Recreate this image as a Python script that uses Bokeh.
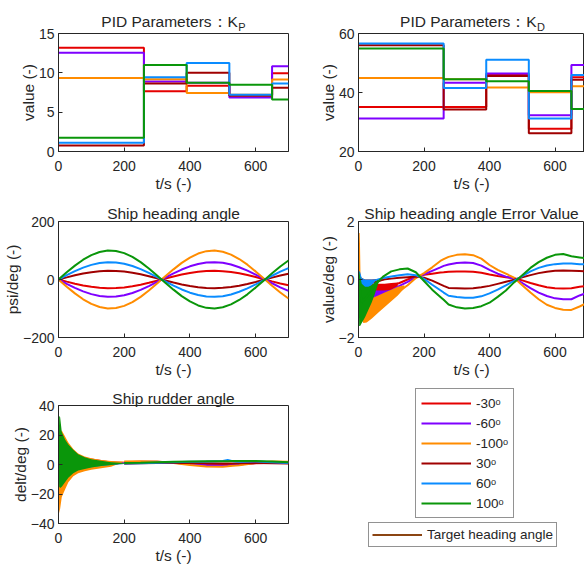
from bokeh.plotting import figure
from bokeh.models import Range1d, FixedTicker, Label, Legend, LegendItem
from bokeh.layouts import column, row
from bokeh.embed import file_html
from bokeh.resources import INLINE

# ---------------- data ----------------
series_names = ["-30ᵒ", "-60ᵒ", "-100ᵒ", "30ᵒ", "60ᵒ", "100ᵒ"]
series_colors = ["#E50000", "#7F00FF", "#FF8C00", "#A00000", "#0A8CFF", "#0A960A"]
target_name = "Target heading angle"
target_color = "#8B4513"

x_ticks = [0, 200, 400, 600]

# PID parameters (piecewise constant, switching times)
t_switch = [0, 260, 390, 520, 650, 700]
kp_m30 = [13.2, 7.65, 8.35, 7.15, 9.95]
kp_m60 = [12.55, 8.9, 8.75, 6.85, 10.85]
kp_m100 = [9.35, 9.2, 7.45, 7.2, 9.15]
kp_p30 = [0.75, 8.65, 10.0, 7.1, 8.1]
kp_p60 = [1.1, 9.45, 11.25, 7.2, 8.65]
kp_p100 = [1.75, 11.0, 8.75, 8.5, 6.6]
kp_ticks = [0, 5, 10, 15]

kd_m30 = [35.1, 35.1, 46.0, 27.7, 45.2]
kd_m60 = [31.2, 43.3, 46.4, 32.3, 49.3]
kd_m100 = [44.9, 44.5, 41.7, 40.1, 42.1]
kd_p30 = [56.0, 34.2, 45.6, 26.2, 44.3]
kd_p60 = [56.6, 41.5, 51.1, 31.2, 45.9]
kd_p100 = [54.9, 44.5, 43.8, 40.5, 34.4]
kd_ticks = [20, 40, 60]

# Ship heading angle
t_psi = [0, 25, 50, 75, 100, 125, 150, 175, 200, 225, 250, 275, 300, 325, 350,
         375, 400, 425, 450, 475, 500, 525, 550, 575, 600, 625, 650, 675, 700]
psi_m30 = [0, -7.4, -14.4, -20.5, -25.2, -28.5, -29.9, -29.5, -27.3, -23.3, -17.9, -11.5, -4.2, 3.3, 10.5,
           17.2, 22.7, 26.8, 29.3, 30.0, 28.8, 25.8, 21.2, 15.3, 8.4, 1.0, -6.5, -13.5, -19.7]
psi_m60 = [0, -14.8, -28.8, -40.9, -50.5, -56.9, -59.8, -59.0, -54.5, -46.7, -35.9, -22.9, -8.5, 6.5, 21.0,
           34.3, 45.4, 53.6, 58.7, 59.9, 57.5, 51.5, 42.4, 30.7, 16.8, 1.9, -12.9, -26.9, -39.4]
psi_m100 = [0, -24.7, -47.9, -68.2, -84.1, -94.9, -99.7, -98.4, -90.9, -77.8, -59.8, -38.2, -14.1, 10.9, 35.0,
            57.2, 75.7, 89.4, 97.8, 99.9, 95.9, 85.9, 70.6, 51.1, 28.0, 3.2, -21.5, -44.9, -65.7]
psi_p30 = [0, 7.4, 14.4, 20.5, 25.2, 28.5, 29.9, 29.5, 27.3, 23.3, 17.9, 11.5, 4.2, -3.3, -10.5,
           -17.2, -22.7, -26.8, -29.3, -30.0, -28.8, -25.8, -21.2, -15.3, -8.4, -1.0, 6.5, 13.5, 19.7]
psi_p60 = [0, 14.8, 28.8, 40.9, 50.5, 56.9, 59.8, 59.0, 54.5, 46.7, 35.9, 22.9, 8.5, -6.5, -21.0,
           -34.3, -45.4, -53.6, -58.7, -59.9, -57.5, -51.5, -42.4, -30.7, -16.8, -1.9, 12.9, 26.9, 39.4]
psi_p100 = [0, 24.7, 47.9, 68.2, 84.1, 94.9, 99.7, 98.4, 90.9, 77.8, 59.8, 38.2, 14.1, -10.9, -35.0,
            -57.2, -75.7, -89.4, -97.8, -99.9, -95.9, -85.9, -70.6, -51.1, -28.0, -3.2, 21.5, 44.9, 65.7]
psi_ticks = [-200, 0, 200]

# Heading angle error (smooth part)
t_err = [0, 10, 25, 50, 75, 100, 125, 150, 175, 200, 225, 250, 260, 275, 300, 325, 350, 375, 400,
         425, 450, 475, 500, 525, 550, 575, 600, 625, 650, 675, 700]
err_m30 = [0, -0.25, -0.35, -0.35, -0.3, -0.22, -0.12, 0.0, 0.1, 0.16, 0.2, 0.24, 0.25, 0.27, 0.28, 0.28,
           0.27, 0.23, 0.17, 0.12, 0.08, 0.04, -0.03, -0.12, -0.2, -0.27, -0.3, -0.31, -0.3, -0.25, -0.22]
err_m60 = [0, -0.4, -0.55, -0.6, -0.5, -0.38, -0.22, -0.08, 0.07, 0.18, 0.3, 0.42, 0.47, 0.52, 0.57, 0.59,
           0.57, 0.48, 0.33, 0.2, 0.1, 0.03, -0.12, -0.3, -0.45, -0.57, -0.65, -0.68, -0.68, -0.55, -0.45]
err_m100 = [0, -1.0, -1.1, -1.0, -0.8, -0.6, -0.4, -0.2, 0.05, 0.22, 0.42, 0.64, 0.7, 0.78, 0.85, 0.87,
            0.84, 0.72, 0.5, 0.33, 0.2, 0.06, -0.2, -0.45, -0.68, -0.87, -0.98, -1.04, -1.05, -0.93, -0.8]
err_p30 = [0, -0.08, -0.1, -0.05, 0.0, 0.03, 0.06, 0.08, 0.1, 0.06, -0.04, -0.17, -0.22, -0.29, -0.3, -0.31,
           -0.3, -0.27, -0.22, -0.15, -0.08, -0.01, 0.08, 0.15, 0.22, 0.27, 0.3, 0.31, 0.3, 0.29, 0.28]
err_p60 = [0, -0.15, -0.12, -0.03, 0.05, 0.1, 0.15, 0.18, 0.15, 0.02, -0.18, -0.37, -0.45, -0.56, -0.6, -0.63,
           -0.63, -0.58, -0.48, -0.35, -0.2, -0.05, 0.12, 0.28, 0.4, 0.48, 0.53, 0.55, 0.55, 0.53, 0.52]
err_p100 = [0, -0.8, -0.6, -0.2, 0.1, 0.28, 0.35, 0.38, 0.25, -0.05, -0.35, -0.6, -0.7, -0.86, -0.96, -1.0,
            -0.98, -0.92, -0.8, -0.6, -0.38, -0.1, 0.15, 0.4, 0.6, 0.75, 0.85, 0.88, 0.8, 0.76, 0.72]
err_ticks = [-2, 0, 2]

# Heading angle error: envelope of the early fast oscillation
eb_m30_t = [0, 5, 10, 20, 40, 60, 80, 100, 120]
eb_m30_hi = [0, 0.2, 0.0, -0.1, -0.15, -0.15, -0.15, -0.12, -0.1]
eb_m30_lo = [0, -0.2, -0.3, -0.45, -0.55, -0.55, -0.5, -0.4, -0.25]
eb_m60_t = [0, 2, 5, 10, 20, 30, 40, 50, 60, 75, 90, 100]
eb_m60_hi = [0, 0.75, 0.2, -0.1, -0.2, -0.3, -0.35, -0.38, -0.38, -0.38, -0.37, -0.35]
eb_m60_lo = [0, -0.3, -0.4, -0.5, -0.6, -0.7, -0.75, -0.75, -0.72, -0.65, -0.55, -0.45]
eb_m100_t = [0, 2, 4, 6, 10, 15, 25, 40, 60, 80, 100, 120, 140]
eb_m100_hi = [0, 1.6, 1.6, 0.2, -0.4, -0.6, -0.7, -0.65, -0.55, -0.45, -0.35, -0.25, -0.2]
eb_m100_lo = [0, -0.3, -0.8, -1.2, -1.4, -1.5, -1.48, -1.35, -1.15, -0.95, -0.75, -0.55, -0.3]
eb_p30_t = [0, 5, 10, 20, 40, 60, 80]
eb_p30_hi = [0, 0.1, 0.05, 0.0, 0.0, 0.02, 0.03]
eb_p30_lo = [0, -0.15, -0.2, -0.2, -0.15, -0.1, -0.02]
eb_p60_t = [0, 2, 5, 10, 20, 30, 40, 50]
eb_p60_hi = [0, 0.3, 0.25, 0.05, 0.0, 0.0, 0.0, 0.0]
eb_p60_lo = [0, -0.4, -0.4, -0.35, -0.35, -0.3, -0.2, -0.08]
eb_p100_t = [0, 2, 5, 10, 20, 30, 40, 50, 60]
eb_p100_hi = [0, 0.3, 0.1, -0.15, -0.25, -0.25, -0.2, -0.1, 0.0]
eb_p100_lo = [0, -1.6, -1.6, -1.5, -1.3, -1.05, -0.8, -0.5, -0.15]

# Rudder angle: envelope of the early oscillation, then the slow part
t_rb = [0, 2, 5, 10, 20, 30, 45, 60, 80, 100, 130, 160, 200]
rb_m30_hi = [0, 15, 15, 14, 12, 10, 8, 6.5, 5, 4, 3, 2, 1.4]
rb_m30_lo = [0, -8, -8, -7, -6, -5, -4, -3.5, -3, -2.5, -1.5, -0.5, 1.0]
rb_m60_hi = [0, 18, 18, 16, 13, 10, 7, 5.5, 4, 3, 2.5, 2, 1.7]
rb_m60_lo = [0, -10, -10, -9, -8, -6, -5, -4, -3, -2.3, -1.5, -0.5, 1.3]
rb_m100_hi = [0, 21, 22, 23, 19, 15, 10.5, 7.5, 5.5, 4.2, 3.0, 2.4, 2.1]
rb_m100_lo = [0, -33, -30, -22, -17, -12, -8, -6, -4.5, -3.5, -2.5, -1.5, 1.9]
rb_p30_hi = [0, 8, 8, 7, 6, 5, 4, 3, 2.5, 2, 1.5, 1, 0.7]
rb_p30_lo = [0, -5, -5, -4.5, -4, -3, -2.5, -2, -1.5, -1, -0.5, 0, 0.3]
rb_p60_hi = [0, 16, 16, 14, 11, 8, 6, 4.5, 3.5, 2.5, 1.8, 1.2, 0.7]
rb_p60_lo = [0, -14, -12, -10, -8.5, -7, -5, -3.5, -2.5, -1.8, -1, -0.3, 0.3]
rb_p100_hi = [0, 33, 32, 22, 17, 13.5, 10, 7, 5, 3.5, 2.5, 1.6, 1.0]
rb_p100_lo = [0, -15, -16, -15, -12, -9, -6, -4, -3, -2, -1, -0.4, 0.6]

t_rl = [200, 250, 300, 350, 400, 450, 500, 515, 530, 550, 600, 650, 700]
rl_m30 = [1.2, 1.5, 1.5, 1.2, 0.5, 0.0, -0.3, -0.2, 0.0, 0.2, 0.8, 1.2, 1.0]
rl_m60 = [1.5, 1.8, 1.8, 1.2, 0.3, -0.5, -0.8, -0.6, -0.3, 0.0, 1.0, 1.5, 1.3]
rl_m100 = [2.0, 2.2, 2.0, 1.0, -0.3, -1.3, -1.5, -1.2, -0.8, -0.5, 1.0, 2.0, 1.8]
rl_p30 = [0.5, 0.8, 1.0, 1.2, 1.0, 0.8, 0.6, 0.7, 0.7, 0.8, 1.0, 0.8, 0.6]
rl_p60 = [0.7, 0.8, 1.2, 1.5, 1.8, 2.0, 2.4, 3.0, 2.2, 1.8, 2.0, 1.5, 1.0]
rl_p100 = [1.0, 1.2, 1.5, 1.8, 2.0, 2.2, 2.2, 2.2, 2.3, 2.3, 2.3, 2.0, 1.5]
rud_ticks = [-40, -20, 0, 20, 40]

# ---------------- styling helpers ----------------
FONT = "Liberation Sans"
INK = "#262626"
LW = 2.0


def style_axis(ax, ticks):
    ax.ticker = FixedTicker(ticks=ticks)
    ax.major_tick_in = 4
    ax.major_tick_out = 0
    ax.minor_tick_in = 0
    ax.minor_tick_out = 0
    ax.axis_line_color = INK
    ax.major_tick_line_color = INK
    ax.major_label_text_font = FONT
    ax.major_label_text_color = INK
    ax.major_label_text_font_size = "14px"
    ax.axis_label_text_font = FONT
    ax.axis_label_text_font_size = "15.5px"
    ax.axis_label_text_font_style = "normal"
    ax.axis_label_text_color = INK


def make_fig(w, h, xr, yr, yticks, ylabel, bl, bt, bb, br):
    p = figure(width=w, height=h, x_range=Range1d(*xr), y_range=Range1d(*yr),
               output_backend="svg", toolbar_location=None,
               min_border_left=bl, min_border_top=bt, min_border_bottom=bb,
               min_border_right=br, x_axis_label="t/s (-)", y_axis_label=ylabel)
    p.grid.visible = False
    p.outline_line_color = INK
    p.outline_line_alpha = 1.0
    p.background_fill_color = "white"
    p.border_fill_color = "white"
    for ax in p.xaxis:
        style_axis(ax, x_ticks)
        ax.major_label_standoff = 9
        ax.axis_label_standoff = 1
    for ax in p.yaxis:
        style_axis(ax, yticks)
        ax.major_label_standoff = 4
        ax.axis_label_standoff = -1
    return p


def add_title(p, x, y, text, off=8, align="center", size="15.5px"):
    p.add_layout(Label(x=x, y=y, text=text, text_align=align, text_baseline="alphabetic",
                       y_offset=off, text_font=FONT, text_font_size=size, text_color=INK), "above")


kp_all = [kp_m30, kp_m60, kp_m100, kp_p30, kp_p60, kp_p100]
kd_all = [kd_m30, kd_m60, kd_m100, kd_p30, kd_p60, kd_p100]
psi_all = [psi_m30, psi_m60, psi_m100, psi_p30, psi_p60, psi_p100]
err_all = [err_m30, err_m60, err_m100, err_p30, err_p60, err_p100]
eb_all = [(eb_m30_t, eb_m30_lo, eb_m30_hi), (eb_m60_t, eb_m60_lo, eb_m60_hi),
          (eb_m100_t, eb_m100_lo, eb_m100_hi), (eb_p30_t, eb_p30_lo, eb_p30_hi),
          (eb_p60_t, eb_p60_lo, eb_p60_hi), (eb_p100_t, eb_p100_lo, eb_p100_hi)]
rb_all = [(rb_m30_lo, rb_m30_hi), (rb_m60_lo, rb_m60_hi), (rb_m100_lo, rb_m100_hi),
          (rb_p30_lo, rb_p30_hi), (rb_p60_lo, rb_p60_hi), (rb_p100_lo, rb_p100_hi)]
rl_all = [rl_m30, rl_m60, rl_m100, rl_p30, rl_p60, rl_p100]

# ---------------- left column ----------------
p_kp = make_fig(290, 195, (0, 700), (0, 15), kp_ticks, "value (-)", 58, 33, 44, 2)
for vals, c in zip(kp_all, series_colors):
    p_kp.step(t_switch, vals + [vals[-1]], mode="after", line_color=c, line_width=LW)
add_title(p_kp, 546, 15, "PID Parameters：K", off=12, align="right")
add_title(p_kp, 547, 15, "P", off=7, align="left", size="11px")

p_psi = make_fig(290, 186, (0, 700), (-200, 200), psi_ticks, "psi/deg (-)", 58, 26, 44, 2)
for vals, c in zip(psi_all, series_colors):
    p_psi.line(t_psi, vals, line_color=c, line_width=LW)
add_title(p_psi, 350, 200, "Ship heading angle", off=8)

p_rud = make_fig(290, 186, (0, 700), (-40, 40), rud_ticks, "delt/deg (-)", 58, 24, 44, 2)
for (blo, bhi), vals, c in zip(rb_all, rl_all, series_colors):
    p_rud.varea(x=t_rb, y1=blo, y2=bhi, fill_color=c, fill_alpha=1.0)
    p_rud.line(t_rl, vals, line_color=c, line_width=LW)
add_title(p_rud, 350, 40, "Ship rudder angle", off=7)

# ---------------- right column ----------------
p_kd = make_fig(294, 195, (0, 690), (20, 60), kd_ticks, "value (-)", 68, 33, 44, 0)
for vals, c in zip(kd_all, series_colors):
    p_kd.step(t_switch, vals + [vals[-1]], mode="after", line_color=c, line_width=LW)
add_title(p_kd, 544, 60, "PID Parameters：K", off=12, align="right")
add_title(p_kd, 545, 60, "D", off=7, align="left", size="11px")

p_err = make_fig(294, 186, (0, 690), (-2, 2), err_ticks, "value/deg (-)", 68, 26, 44, 0)
for (bt, blo, bhi), vals, c in zip(eb_all, err_all, series_colors):
    p_err.varea(x=bt, y1=blo, y2=bhi, fill_color=c, fill_alpha=1.0)
    p_err.line(t_err, vals, line_color=c, line_width=LW)
add_title(p_err, 345, 2, "Ship heading angle Error Value", off=8)

# legend panel: proxy lines lie outside its (empty) view, only their legend glyphs show
p_leg = figure(width=294, height=186, x_range=Range1d(-2, -1), y_range=Range1d(-2, -1),
               x_axis_type=None, y_axis_type=None, output_backend="svg",
               toolbar_location=None, min_border_left=68, min_border_right=0,
               min_border_top=0, min_border_bottom=0)
p_leg.outline_line_color = None
p_leg.grid.visible = False
leg_renderers = [p_leg.line(t_psi, vals, line_color=c, line_width=LW)
                 for vals, c in zip(psi_all, series_colors)]
target_renderer = p_leg.line(t_psi, psi_p30, line_color=target_color, line_width=LW)


def make_legend(items, loc, pad, h):
    return Legend(items=items, location=loc, orientation="vertical",
                  glyph_width=50, glyph_height=h, label_height=h, spacing=2,
                  padding=pad, margin=0, label_standoff=5,
                  label_text_font=FONT, label_text_font_size="13.5px", label_text_color=INK,
                  border_line_color=INK, border_line_width=1,
                  background_fill_color="white", background_fill_alpha=1.0)


leg1 = make_legend([LegendItem(label=n, renderers=[r]) for n, r in zip(series_names, leg_renderers)],
                   (57, 49), 5, 18)
leg2 = make_legend([LegendItem(label=target_name, renderers=[target_renderer])], (10, 20), 3, 17)
p_leg.add_layout(leg1)
p_leg.add_layout(leg2)

layout = row(column(p_kp, p_psi, p_rud), column(p_kd, p_err, p_leg))

open("out.html", "w").write(file_html(layout, INLINE))
